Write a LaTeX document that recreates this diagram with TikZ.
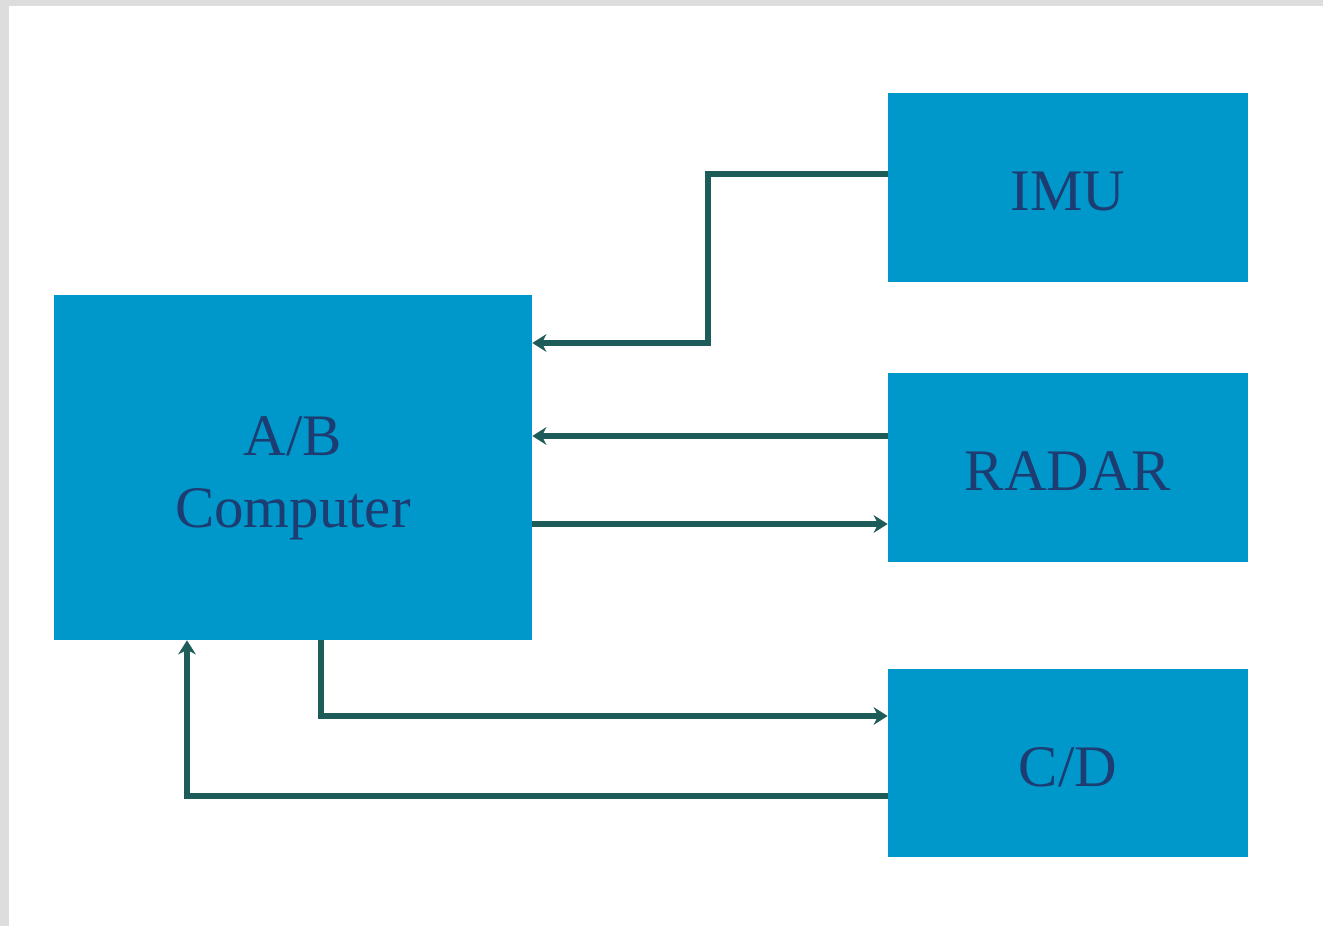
\documentclass[tikz,border=0pt]{standalone}
\usepackage{fontspec}
\setmainfont{Liberation Serif}
\usetikzlibrary{arrows.meta}
\definecolor{boxblue}{HTML}{0097CB}
\definecolor{txtnavy}{HTML}{1C3C72}
\definecolor{linkteal}{HTML}{1E5C5A}
\definecolor{framegray}{HTML}{DDDDDD}
\newcommand{\sinktext}[2]{\raisebox{-#1}[\height][\depth]{#2}}

\begin{document}
\begin{tikzpicture}[x=0.02cm,y=-0.02cm,
  every node/.style={inner sep=0pt},
  unit/.style={fill=boxblue,text=txtnavy,align=center,
    font=\fontsize{33.5}{41}\selectfont},
  link/.style={draw=linkteal,line width=2.9pt,
    -{Stealth[length=8pt,width=10pt]}}]
  \fill[framegray] (0,0) rectangle (1323,926);
  \fill[white] (9,6) rectangle (1323,926);
  \node[unit,minimum width=9.56cm,minimum height=6.9cm] (comp) at (293,467.5)
    {\sinktext{0.2cm}{\begin{tabular}{@{}c@{}}A/B\\Computer\end{tabular}}};
  \node[unit,minimum width=7.2cm,minimum height=3.78cm] (imu) at (1068,187.5) {\sinktext{0.08cm}{IMU}};
  \node[unit,minimum width=7.2cm,minimum height=3.78cm] (radar) at (1068,467.5) {\sinktext{0.08cm}{RADAR}};
  \node[unit,minimum width=7.2cm,minimum height=3.76cm] (cd) at (1068,763) {\sinktext{0.08cm}{C/D}};
  \draw[link] (imu.west |- 0,174) -| (708,343) -- (comp.east |- 0,343);
  \draw[link] (radar.west |- 0,436) -- (comp.east |- 0,436);
  \draw[link] (comp.east |- 0,524) -- (radar.west |- 0,524);
  \draw[link] (comp.south -| 321,0) |- (cd.west |- 0,716);
  \draw[link] (cd.west |- 0,796) -| (comp.south -| 187,0);
\end{tikzpicture}
\end{document}
